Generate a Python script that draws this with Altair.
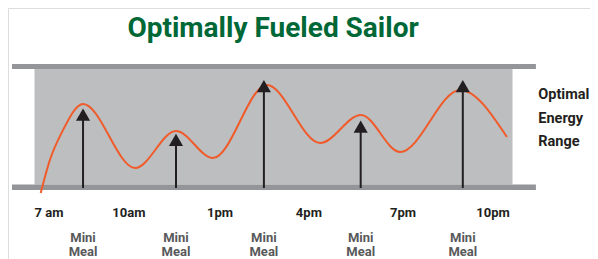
import altair as alt
import pandas as pd

# ---- data (hours of day, energy level 0-100 inside optimal range) ----
curve_hour = [6.72, 7.03, 7.44, 8.15, 9.91, 11.29, 12.54, 14.36, 16.16, 17.54, 18.86, 20.89, 22.47]
curve_energy = [-7.3, 21.1, 45.3, 69.4, 14.2, 46.1, 22.8, 85.8, 35.8, 59.9, 28.0, 81.5, 40.9]

meal_hour = [8.15, 11.29, 14.26, 17.53, 20.98]
meal_energy = [60.3, 38.4, 84.9, 50.0, 84.9]
meal_line1 = ["Mini"] * 5
meal_line2 = ["Meal"] * 5

time_labels = ["7 am", "10am", "1pm", "4pm", "7pm", "10pm"]
time_hour = [7.0, 9.70, 12.78, 15.78, 18.96, 22.0]

title_text = "Optimally Fueled Sailor"
range_text = "Optimal\nEnergy\nRange"

FONT = "Roboto, DejaVu Sans Condensed, sans-serif"

xs = alt.Scale(domain=[5.6149, 25.277], nice=False, zero=False)
ys = alt.Scale(domain=[-64.22, 152.16], nice=False, zero=False)
X = lambda f: alt.X(f, type="quantitative", scale=xs, axis=None)
Y = lambda f: alt.Y(f, type="quantitative", scale=ys, axis=None)

curve_df = pd.DataFrame({"h": curve_hour, "e": curve_energy})
meal_df = pd.DataFrame({"h": meal_hour, "e": meal_energy, "l1": meal_line1, "l2": meal_line2})
time_df = pd.DataFrame({"h": time_hour, "label": time_labels})

panel_df = pd.DataFrame({"x1": [6.51], "x2": [22.66], "y1": [0.0], "y2": [100.0]})
bars_df = pd.DataFrame({"x1": [5.75, 5.75], "x2": [23.45, 23.45], "y1": [99.6, -4.7], "y2": [103.9, 0.0]})
title_df = pd.DataFrame({"h": [14.57], "t": [title_text]})
range_df = pd.DataFrame({"h": [23.53], "t": [range_text]})

panel = alt.Chart(panel_df).mark_rect(color="#bcbec0").encode(
    x=X("x1"), x2="x2", y=Y("y1"), y2="y2")
bars = alt.Chart(bars_df).mark_rect(color="#939598").encode(
    x=X("x1"), x2="x2", y=Y("y1"), y2="y2")

curve = alt.Chart(curve_df).mark_line(color="#f15a29", strokeWidth=2, interpolate="monotone").encode(
    x=X("h"), y=Y("e"))

shafts = alt.Chart(meal_df).transform_calculate(base="-3").mark_rule(color="#231f20", strokeWidth=2).encode(
    x=X("h"), y=Y("base:Q"), y2="e")
heads = alt.Chart(meal_df).mark_point(shape="triangle-up", filled=True, size=200, color="#231f20", opacity=1).encode(
    x=X("h"), y=Y("e"))

mini = alt.Chart(meal_df).transform_calculate(ly="-46.12").mark_text(
    font=FONT, fontWeight="bold", fontSize=13, color="#58595b", baseline="middle", align="center").encode(
    x=X("h"), y=Y("ly:Q"), text="l1")
meal = alt.Chart(meal_df).transform_calculate(ly="-58.19").mark_text(
    font=FONT, fontWeight="bold", fontSize=13, color="#58595b", baseline="middle", align="center").encode(
    x=X("h"), y=Y("ly:Q"), text="l2")

time_text = alt.Chart(time_df).transform_calculate(ly="-24.6").mark_text(
    font=FONT, fontWeight="bold", fontSize=13, color="#231f20", baseline="middle", align="center").encode(
    x=X("h"), y=Y("ly:Q"), text="label")

title = alt.Chart(title_df).transform_calculate(ly="127.2").mark_text(
    font=FONT, fontWeight="bold", fontSize=28, color="#006837", baseline="alphabetic", align="center").encode(
    x=X("h"), y=Y("ly:Q"), text="t")

range_lbl = alt.Chart(range_df).transform_calculate(ly="73.7").mark_text(
    font=FONT, fontWeight="bold", fontSize=14.5, color="#231f20",
    lineBreak="\n", lineHeight=23.5, baseline="alphabetic", align="left").encode(
    x=X("h"), y=Y("ly:Q"), text="t")

chart = alt.layer(panel, bars, curve, shafts, heads, mini, meal, time_text, title, range_lbl).properties(
    width=582, height=251, padding=0,
    autosize=alt.AutoSizeParams(type="none"),
).configure_view(stroke=None).configure(background="white")

chart.save("out.html", embed_options={"renderer": "svg", "actions": False})
